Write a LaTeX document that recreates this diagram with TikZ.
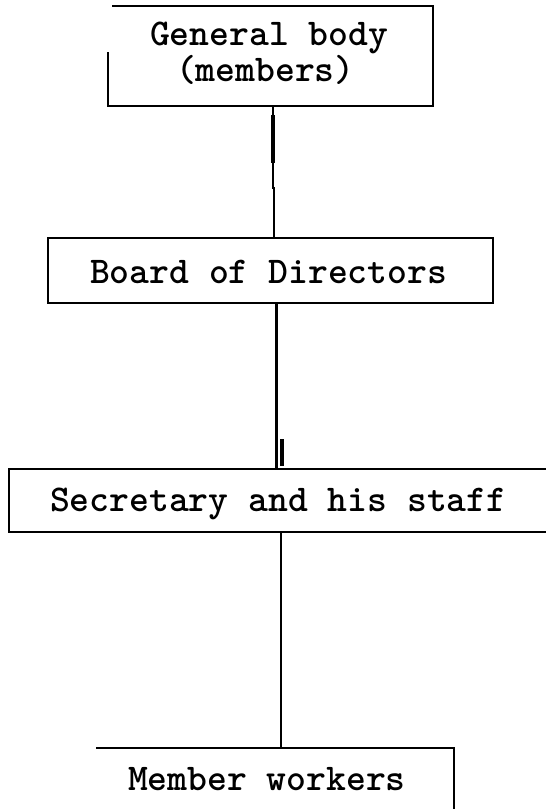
\documentclass[tikz,border=0pt]{standalone}
\usepackage{fontspec}
\setmonofont{Latin Modern Mono Light}
\usetikzlibrary{calc}
\tikzset{
  boxarea/.style={draw=none, inner sep=0pt, outer sep=0pt},
  edge/.style={draw=black, line width=2pt, line join=miter},
  link/.style={draw=black, line width=2.4pt},
  lbl/.style={inner sep=0pt, outer sep=0pt, font=\fontsize{37.8}{28}\selectfont\ttfamily\bfseries}
}
\begin{document}
\begin{tikzpicture}[x=1pt, y=-1pt]
\useasboundingbox[fill=white] (0,0) rectangle (546,809);
% box areas
\node[boxarea, minimum width=325pt, minimum height=100pt] (gb) at (270,56) {};
\node[boxarea, minimum width=445pt, minimum height=65.5pt] (bd) at (270.5,270.25) {};
\node[boxarea, minimum width=543pt, minimum height=63pt] (sec) at (280.5,500.5) {};
\node[boxarea, minimum width=358pt, minimum height=85pt] (mw) at (275,790) {};
% borders
\draw[edge] ($(gb.north west)+(4.5,0)$) -- (gb.north east) -- (gb.south east) -- (gb.south west) -- ($(gb.south west)+(0,-54)$);
\draw[edge] (bd.north west) rectangle (bd.south east);
\draw[edge] (sec.north west) rectangle (sec.south east);
\draw[edge] (mw.north west) -- (mw.north east) -- (mw.south east);
% texts
\node[lbl, anchor=base west, align=left] (gbt) at (150,81) {General body\\\hspace*{26pt}(members)};
\node[lbl, anchor=base west] (bdt) at (90,283) {Board of Directors};
\node[lbl, anchor=base west] (sect) at (50,511) {Secretary and his staff};
\node[lbl, anchor=base west] (mwt) at (128,790) {Member workers};
% connectors
\coordinate (c1a) at ($(gb.south)+(3,0)$);
\coordinate (c1k) at ($(gb.south)+(3,82)$);
\coordinate (c1b) at ($(bd.north)+(3.5,0)$);
\draw[link] (c1a) -- (c1k) -- ($(c1k)+(1,0)$) -- (c1b);
\draw[draw=black, line width=4.5pt] ($(gb.south)+(3,9)$) -- ($(gb.south)+(3,57)$);
\coordinate (c2a) at ($(bd.south)+(6,0)$);
\draw[link] (c2a) -- (c2a |- sec.north);
\draw[draw=black, line width=4pt] ($(sec.north)+(1.5,-3)$) -- ($(sec.north)+(1.5,-30)$);
\coordinate (c3a) at ($(sec.south)+(0.5,0)$);
\draw[link] (c3a) -- (c3a |- mw.north);
\end{tikzpicture}
\end{document}
